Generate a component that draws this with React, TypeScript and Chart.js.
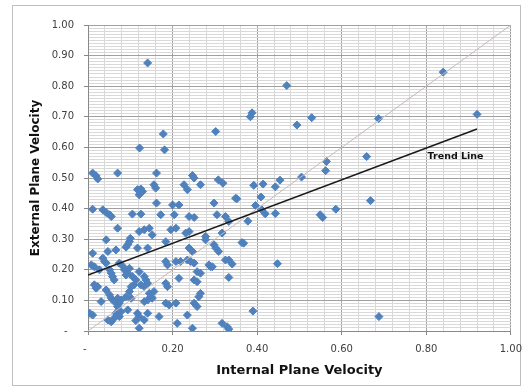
import React, { useEffect, useRef } from 'react';
import { Chart, registerables } from 'chart.js';

Chart.register(...registerables);

// Scatter data (Internal Plane Velocity, External Plane Velocity)
const internalVelocity = [
  0.840, 0.920, 0.470, 0.384, 0.388, 0.529, 0.687, 0.494, 0.659, 0.564,
  0.562, 0.505, 0.454, 0.443, 0.414, 0.392, 0.352, 0.409, 0.396, 0.411,
  0.419, 0.443, 0.378, 0.668, 0.586, 0.549, 0.555, 0.333, 0.364, 0.368,
  0.333, 0.341, 0.448, 0.333, 0.390, 0.688, 0.333, 0.141, 0.178, 0.122,
  0.181, 0.302, 0.011, 0.019, 0.023, 0.070, 0.162, 0.247, 0.251, 0.308,
  0.319, 0.227, 0.235, 0.266, 0.349, 0.117, 0.125, 0.129, 0.121, 0.156,
  0.160, 0.162, 0.011, 0.035, 0.043, 0.051, 0.055, 0.105, 0.125, 0.172,
  0.204, 0.200, 0.215, 0.239, 0.251, 0.298, 0.305, 0.325, 0.070, 0.121,
  0.133, 0.145, 0.196, 0.208, 0.231, 0.239, 0.152, 0.043, 0.100, 0.098,
  0.094, 0.090, 0.066, 0.047, 0.117, 0.141, 0.184, 0.239, 0.247, 0.278,
  0.278, 0.317, 0.298, 0.302, 0.309, 0.325, 0.011, 0.008, 0.015, 0.035,
  0.039, 0.043, 0.027, 0.051, 0.055, 0.058, 0.062, 0.074, 0.082, 0.086,
  0.094, 0.098, 0.090, 0.105, 0.113, 0.109, 0.102, 0.121, 0.133, 0.137,
  0.125, 0.133, 0.141, 0.184, 0.188, 0.208, 0.219, 0.235, 0.243, 0.251,
  0.215, 0.251, 0.258, 0.266, 0.262, 0.184, 0.188, 0.286, 0.290, 0.294,
  0.015, 0.023, 0.019, 0.031, 0.055, 0.062, 0.070, 0.043, 0.051, 0.098,
  0.090, 0.102, 0.078, 0.074, 0.070, 0.145, 0.149, 0.152, 0.141, 0.133,
  0.156, 0.094, 0.078, 0.066, 0.004, 0.011, 0.047, 0.055, 0.074, 0.062,
  0.117, 0.121, 0.141, 0.133, 0.168, 0.121, 0.184, 0.192, 0.208, 0.211,
  0.235, 0.247, 0.317, 0.329, 0.258, 0.266, 0.251, 0.258, 0.113
];
const externalVelocity = [
  0.846, 0.708, 0.802, 0.700, 0.713, 0.697, 0.694, 0.673, 0.570, 0.554,
  0.524, 0.503, 0.493, 0.471, 0.480, 0.476, 0.432, 0.438, 0.410, 0.396,
  0.383, 0.384, 0.359, 0.426, 0.398, 0.380, 0.371, 0.358, 0.289, 0.287,
  0.232, 0.219, 0.220, 0.175, 0.065, 0.047, 0.006, 0.876, 0.644, 0.598,
  0.592, 0.652, 0.516, 0.507, 0.497, 0.516, 0.516, 0.508, 0.500, 0.494,
  0.483, 0.478, 0.462, 0.478, 0.434, 0.462, 0.464, 0.456, 0.445, 0.478,
  0.467, 0.418, 0.398, 0.396, 0.387, 0.380, 0.374, 0.382, 0.382, 0.380,
  0.380, 0.412, 0.412, 0.374, 0.371, 0.418, 0.380, 0.374, 0.336, 0.325,
  0.331, 0.336, 0.331, 0.336, 0.320, 0.325, 0.314, 0.298, 0.303, 0.292,
  0.282, 0.274, 0.265, 0.260, 0.271, 0.271, 0.292, 0.271, 0.260, 0.309,
  0.298, 0.320, 0.282, 0.271, 0.260, 0.232, 0.254, 0.216, 0.210, 0.238,
  0.227, 0.222, 0.200, 0.200, 0.189, 0.178, 0.167, 0.222, 0.212, 0.200,
  0.189, 0.205, 0.183, 0.178, 0.167, 0.151, 0.145, 0.194, 0.178, 0.167,
  0.151, 0.145, 0.156, 0.227, 0.216, 0.227, 0.227, 0.232, 0.227, 0.222,
  0.172, 0.167, 0.161, 0.123, 0.112, 0.156, 0.145, 0.216, 0.210, 0.210,
  0.151, 0.145, 0.140, 0.096, 0.107, 0.096, 0.107, 0.134, 0.118, 0.129,
  0.112, 0.107, 0.101, 0.091, 0.080, 0.123, 0.112, 0.107, 0.101, 0.096,
  0.129, 0.069, 0.063, 0.058, 0.058, 0.052, 0.036, 0.030, 0.047, 0.042,
  0.058, 0.047, 0.058, 0.036, 0.047, 0.009, 0.091, 0.085, 0.091, 0.025,
  0.052, 0.009, 0.025, 0.014, 0.194, 0.189, 0.091, 0.080, 0.034
];

// Trend line end points and the y = x reference line
const trendX = [0, 0.92];
const trendY = [0.183, 0.66];
const diagonalX = [0, 1];
const diagonalY = [0, 1];
const trendLabel = 'Trend Line';
const trendLabelX = 0.803;
const trendLabelY = 0.57;

// Axis ticks and labels
const xTickValues = [0, 0.2, 0.4, 0.6, 0.8, 1.0];
const xTickLabels = ['-  ', '0.20', '0.40', '0.60', '0.80', '1.00'];
const yTickValues = [0, 0.1, 0.2, 0.3, 0.4, 0.5, 0.6, 0.7, 0.8, 0.9, 1.0];
const yTickLabels = ['-  ', '0.10', '0.20', '0.30', '0.40', '0.50', '0.60', '0.70', '0.80', '0.90', '1.00'];
const xTitle = 'Internal Plane Velocity';
const yTitle = 'External Plane Velocity';

const majorIndex = (values: number[], v: number) =>
  values.findIndex((m) => Math.abs(m - v) < 1e-6);

const labelPlugin = {
  id: 'trendLabel',
  afterDatasetsDraw(chart: any) {
    const { ctx, scales } = chart;
    ctx.save();
    ctx.font = 'bold 9.5px "DejaVu Sans", sans-serif';
    ctx.fillStyle = '#111';
    ctx.textAlign = 'left';
    ctx.textBaseline = 'middle';
    ctx.fillText(trendLabel, scales.x.getPixelForValue(trendLabelX), scales.y.getPixelForValue(trendLabelY));
    ctx.restore();
  },
};

export default function App() {
  const canvasRef = useRef<HTMLCanvasElement | null>(null);

  useEffect(() => {
    if (!canvasRef.current) return;
    const points = internalVelocity.map((x, i) => ({ x, y: externalVelocity[i] }));
    const chart = new Chart(canvasRef.current, {
      type: 'scatter',
      data: {
        datasets: [
          {
            label: 'Trend',
            data: trendX.map((x, i) => ({ x, y: trendY[i] })),
            showLine: true,
            borderColor: '#1a1a1a',
            borderWidth: 1.5,
            pointRadius: 0,
          },
          {
            label: 'y = x',
            data: diagonalX.map((x, i) => ({ x, y: diagonalY[i] })),
            showLine: true,
            borderColor: '#c8b9b9',
            borderWidth: 1,
            pointRadius: 0,
          },
          {
            label: 'Velocity',
            data: points,
            pointStyle: 'rectRot',
            pointRadius: 4,
            backgroundColor: '#4F81BD',
            borderColor: '#4F81BD',
            borderWidth: 1,
          },
        ],
      },
      options: {
        animation: false,
        responsive: false,
        devicePixelRatio: 1,
        layout: { padding: { left: 0, top: 25, right: 16, bottom: 0 } },
        plugins: { legend: { display: false }, tooltip: { enabled: false } },
        scales: {
          x: {
            type: 'linear',
            min: 0,
            max: 1,
            afterFit: (scale: any) => { scale.height = 60; },
            ticks: {
              stepSize: 0.04,
              autoSkip: false,
              maxRotation: 0,
              maxTicksLimit: 1000,
              padding: 8,
              color: '#404040',
              font: { family: '"DejaVu Sans", sans-serif', size: 10 },
              callback: (v: any) => {
                const i = majorIndex(xTickValues, Number(v));
                return i >= 0 ? xTickLabels[i] : '';
              },
            },
            grid: {
              color: (c: any) => (majorIndex(xTickValues, c.tick.value) >= 0 ? '#a0a0a0' : '#d9d9d9'),
              tickColor: (c: any) => (majorIndex(xTickValues, c.tick.value) >= 0 ? '#888' : 'rgba(0,0,0,0)'),
              tickLength: 4,
            },
            border: { color: '#888' },
            title: {
              display: true,
              text: xTitle,
              color: '#111',
              font: { family: '"DejaVu Sans", sans-serif', size: 13, weight: 'bold' },
              padding: { top: 0, bottom: 13 },
            },
          },
          y: {
            type: 'linear',
            min: 0,
            max: 1,
            afterFit: (scale: any) => { scale.width = 88; },
            ticks: {
              stepSize: 0.01,
              autoSkip: false,
              maxTicksLimit: 1000,
              padding: 10,
              color: '#404040',
              font: { family: '"DejaVu Sans", sans-serif', size: 10 },
              callback: (v: any) => {
                const i = majorIndex(yTickValues, Number(v));
                return i >= 0 ? yTickLabels[i] : '';
              },
            },
            grid: {
              color: (c: any) => (majorIndex(yTickValues, c.tick.value) >= 0 ? '#a0a0a0' : '#d9d9d9'),
              tickColor: (c: any) => (majorIndex(yTickValues, c.tick.value) >= 0 ? '#888' : 'rgba(0,0,0,0)'),
              tickLength: 4,
            },
            border: { color: '#888' },
            title: {
              display: true,
              text: yTitle,
              color: '#111',
              font: { family: '"DejaVu Sans", sans-serif', size: 12, weight: 'bold' },
              padding: { top: 29, bottom: 0 },
            },
          },
        },
      },
      plugins: [labelPlugin],
    });
    return () => chart.destroy();
  }, []);

  return (
    <div style={{ position: 'absolute', left: 0, top: 0, width: 530, height: 391, background: '#fff' }}>
      <div
        style={{
          position: 'absolute',
          left: 12,
          top: 5,
          width: 509,
          height: 381,
          boxSizing: 'border-box',
          border: '1px solid #bfbfbf',
        }}
      />
      <canvas
        ref={canvasRef}
        width={530}
        height={391}
        style={{ position: 'absolute', left: 0, top: 0, width: 530, height: 391 }}
      />
    </div>
  );
}
